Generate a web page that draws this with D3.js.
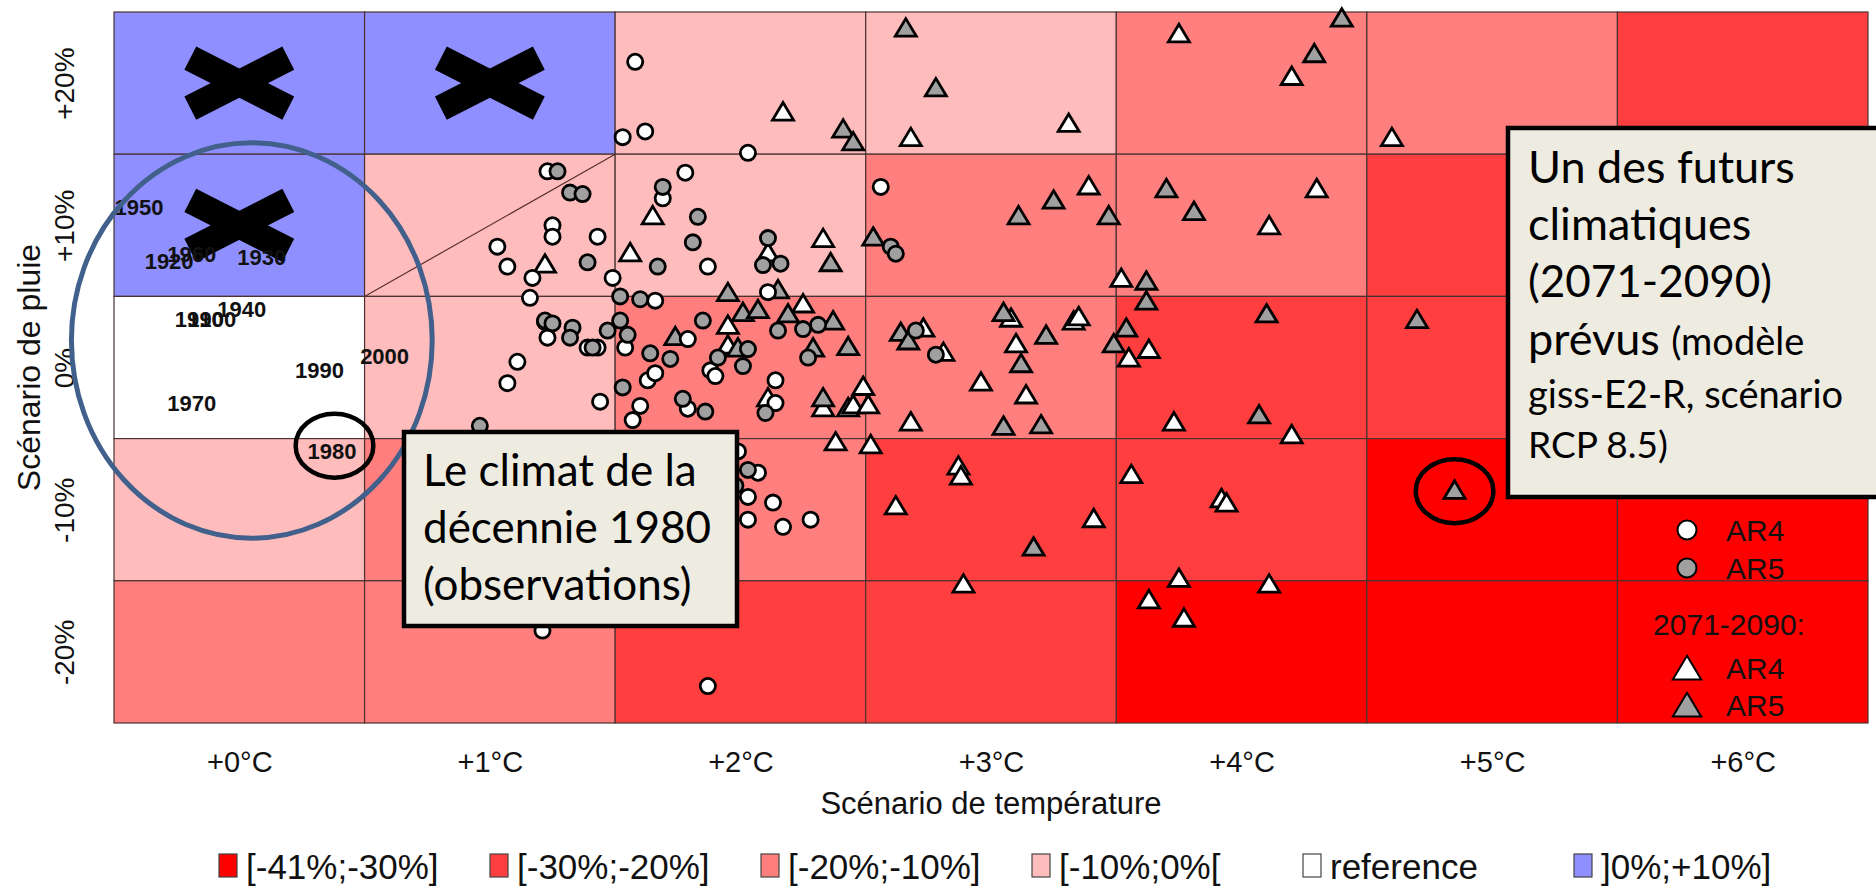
<!DOCTYPE html>
<html>
<head>
<meta charset="utf-8">
<script src="https://cdn.jsdelivr.net/npm/d3@7"></script>
<style>
  body { margin: 0; background: #fff; }
  svg { display: block; }
</style>
</head>
<body>
<script>
// grid of scenarios: temperature change (°C) x rain change (%)
var temps = [0, 1, 2, 3, 4, 5, 6];
var rains = [20, 10, 0, -10, -20];

// yield change class of each cell, rows from +20% down to -20%
var cellClass = [
  ["up",  "up",  "m10", "m10", "m20", "m20", "m30"],
  ["up",  "m10", "m10", "m20", "m20", "m30", "m30"],
  ["ref", "m10", "m20", "m20", "m30", "m30", "m41"],
  ["m10", "m20", "m20", "m30", "m30", "m41", "m41"],
  ["m20", "m20", "m30", "m30", "m41", "m41", "m41"]
];
var classes = ["m41", "m30", "m20", "m10", "ref", "up"];
var classLabels = ["[-41%;-30%]", "[-30%;-20%]", "[-20%;-10%]", "[-10%;0%[", "reference", "]0%;+10%]"];
var classColors = ["#ff0000", "#ff3f3f", "#ff7f7f", "#ffbcbc", "#ffffff", "#8f8fff"];

// cells that are out of reach (crossed out)
var crossed = [[0, 20], [1, 20], [0, 10]];

// observed decades (temperature, rain)
var decades = ["1900", "1910", "1920", "1930", "1940", "1950", "1960", "1970", "1980", "1990", "2000"];
var decT = [-0.11, -0.16, -0.28, 0.09, 0.01, -0.40, -0.19, -0.19, 0.37, 0.32, 0.58];
var decR = [3.4, 3.4, 7.5, 7.8, 4.1, 11.3, 8.0, -2.5, -5.9, -0.2, 0.8];

// mid-century projections, circles [temperature, rain]
var midAR4 = [
  [1.58, 21.5], [1.53, 16.2], [1.62, 16.6], [2.03, 15.1], [1.78, 13.7], [1.23, 13.8], [1.69, 11.9],
  [2.56, 12.7], [1.25, 10.0], [1.25, 9.2], [1.43, 9.2], [1.03, 8.5], [1.07, 7.1], [1.87, 7.1],
  [1.17, 6.3], [1.49, 6.3], [1.16, 4.9], [1.66, 4.7], [2.11, 5.3], [1.22, 3.2], [1.23, 2.1],
  [1.39, 1.4], [1.43, 1.4], [1.54, 1.4], [1.79, 2.0], [1.88, -0.2], [1.90, -0.6], [1.11, 0.4],
  [1.07, -1.1], [1.63, -0.9], [1.66, -0.4], [2.14, -0.9], [1.44, -2.4], [1.60, -2.7], [1.57, -3.7],
  [1.79, -2.9], [2.14, -2.5], [1.99, -5.9], [2.07, -7.4], [2.03, -9.1], [2.13, -9.5], [2.03, -10.7],
  [2.17, -11.2], [2.28, -10.7], [1.21, -18.5], [1.87, -22.4]
];
var midAR5 = [
  [1.27, 13.8], [1.32, 12.3], [1.37, 12.2], [1.69, 12.7], [1.83, 10.6], [1.39, 7.4], [1.81, 8.8],
  [1.67, 7.1], [2.11, 9.1], [2.09, 7.2], [2.16, 7.3], [2.60, 8.5], [2.62, 8.0], [1.52, 5.0],
  [1.60, 4.8], [2.31, 3.0], [2.25, 2.7], [2.15, 2.6], [1.85, 3.3], [1.22, 3.3], [1.25, 3.1],
  [1.33, 2.8], [1.32, 2.1], [1.41, 1.4], [1.47, 2.6], [1.52, 3.3], [1.55, 2.3], [1.64, 1.0],
  [1.72, 0.6], [2.03, 1.3], [1.91, 0.7], [2.01, 0.1], [2.27, 0.7], [2.70, 2.6], [2.78, 0.9],
  [1.53, -1.4], [1.77, -2.2], [1.86, -3.1], [2.10, -3.2], [0.96, -4.1], [2.03, -7.2], [1.98, -8.3]
];

// 2071-2090 projections, triangles [temperature, rain]
var endAR4 = [
  [2.17, 18.0], [2.68, 16.2], [1.65, 10.7], [1.22, 7.3], [1.56, 8.1], [2.11, 8.1], [2.33, 9.1],
  [2.25, 4.5], [1.95, 3.0], [1.95, 1.6], [2.73, 2.8], [2.81, 1.1], [2.49, -1.3], [2.11, -2.1],
  [2.33, -2.8], [2.43, -2.8], [2.45, -2.6], [2.51, -2.6], [2.68, -3.8], [2.38, -5.2], [2.52, -5.4],
  [3.31, 17.2], [4.60, 16.2], [3.39, 12.8], [4.30, 12.6], [4.11, 10.0], [3.52, 6.3], [3.08, 3.5],
  [3.33, 3.3], [3.35, 3.6], [3.10, 1.7], [3.55, 0.7], [3.63, 1.3], [2.96, -1.0], [3.14, -1.9],
  [3.73, -3.8], [4.20, -4.7], [2.87, -6.9], [2.88, -7.6], [3.56, -7.5], [3.92, -9.2], [3.94, -9.5],
  [3.41, -10.6], [2.89, -15.2], [3.75, -14.8], [4.11, -15.2], [3.63, -16.3], [3.77, -17.6],
  [3.75, 23.5], [4.20, 20.5], [2.62, -9.7]
];
var endAR5 = [
  [2.41, 16.8], [2.45, 15.9], [2.36, 7.4], [2.53, 9.2], [1.95, 5.3], [2.15, 5.5], [2.01, 3.9],
  [2.07, 4.1], [2.19, 3.8], [2.37, 3.3], [1.74, 2.2], [1.99, 1.4], [2.29, 1.4], [2.43, 1.5],
  [2.64, 2.5], [2.67, 1.9], [2.33, -2.1], [3.25, 11.8], [3.11, 10.7], [3.47, 10.7], [3.70, 12.6],
  [3.81, 11.0], [3.62, 6.1], [3.62, 4.7], [4.10, 3.8], [4.70, 3.4], [3.05, 3.9], [3.22, 2.3],
  [3.12, 0.3], [3.54, 2.8], [3.49, 1.7], [3.05, -4.1], [3.20, -4.0], [4.07, -3.3], [3.17, -12.6],
  [4.85, -8.6], [2.66, 23.9], [2.78, 19.7], [4.40, 24.6], [4.29, 22.1]
];

var W = 1876, H = 886;
var svg = d3.select("body").append("svg").attr("width", W).attr("height", H);

var x = d3.scaleLinear().domain([-0.5, 6.5]).range([114, 1868]);
var y = d3.scaleLinear().domain([-25, 25]).range([723, 12]);
var cw = x(1) - x(0), ch = y(0) - y(10);
var colorOf = d3.scaleOrdinal().domain(classes).range(classColors);

var rFont = "'Liberation Sans', Arial, sans-serif";

// cells
var cells = [];
rains.forEach(function (r, i) {
  temps.forEach(function (t, j) { cells.push({ t: t, r: r, cls: cellClass[i][j] }); });
});
svg.append("g").selectAll("rect").data(cells).enter().append("rect")
  .attr("x", function (d) { return x(d.t - 0.5); })
  .attr("y", function (d) { return y(d.r + 5); })
  .attr("width", cw)
  .attr("height", ch)
  .attr("fill", function (d) { return colorOf(d.cls); })
  .attr("stroke", "#4a3232")
  .attr("stroke-width", 1.2);

// diagonal in the +1°C / +10% cell
svg.append("line")
  .attr("x1", x(0.5)).attr("y1", y(5))
  .attr("x2", x(1.5)).attr("y2", y(15))
  .attr("stroke", "#5a3030").attr("stroke-width", 1.2);

// crosses
var crossG = svg.append("g").selectAll("g").data(crossed).enter().append("g")
  .attr("transform", function (d) { return "translate(" + x(d[0]) + "," + y(d[1]) + ")"; });
crossG.append("line").attr("x1", -49).attr("y1", -25).attr("x2", 49).attr("y2", 25);
crossG.append("line").attr("x1", -49).attr("y1", 25).attr("x2", 49).attr("y2", -25);
crossG.selectAll("line").attr("stroke", "#000").attr("stroke-width", 26);

// decade labels
svg.append("g").selectAll("text").data(decades).enter().append("text")
  .attr("x", function (d, i) { return x(decT[i]); })
  .attr("y", function (d, i) { return y(decR[i]); })
  .attr("dy", "0.36em")
  .attr("text-anchor", "middle")
  .style("font-family", rFont).style("font-weight", "bold").style("font-size", "22px")
  .style("fill", "#111")
  .text(function (d) { return d; });

// markers
var tri = "M0,-9L10.5,8.5L-10.5,8.5Z";
function triangles(data, fill) {
  svg.append("g").selectAll("path").data(data).enter().append("path")
    .attr("d", tri)
    .attr("transform", function (d) { return "translate(" + x(d[0]) + "," + y(d[1]) + ")"; })
    .attr("fill", fill).attr("stroke", "#000").attr("stroke-width", 2.8)
    .attr("stroke-linejoin", "miter");
}
function circles(data, fill) {
  svg.append("g").selectAll("circle").data(data).enter().append("circle")
    .attr("cx", function (d) { return x(d[0]); })
    .attr("cy", function (d) { return y(d[1]); })
    .attr("r", 7.6)
    .attr("fill", fill).attr("stroke", "#000").attr("stroke-width", 2.8);
}
triangles(endAR4, "#ffffff");
triangles(endAR5, "#a0a0a0");
circles(midAR4, "#ffffff");
circles(midAR5, "#a0a0a0");

// axes
var xAxis = svg.append("g")
  .attr("transform", "translate(0," + y(-25) + ")")
  .call(d3.axisBottom(x).tickValues(temps).tickSize(0).tickPadding(28)
    .tickFormat(function (d) { return "+" + d + "°C"; }));
xAxis.select(".domain").remove();
xAxis.selectAll("text").style("font-family", rFont).style("font-size", "29px").style("fill", "#111");

var yAxis = svg.append("g")
  .attr("transform", "translate(" + x(-0.5) + ",0)")
  .call(d3.axisLeft(y).tickValues(rains).tickSize(0)
    .tickFormat(function (d) { return (d > 0 ? "+" : "") + d + "%"; }));
yAxis.select(".domain").remove();
yAxis.selectAll("text")
  .attr("transform", "rotate(-90)")
  .attr("text-anchor", "middle")
  .attr("x", 0).attr("y", -50).attr("dy", "0.35em")
  .style("font-family", rFont).style("font-size", "28px").style("fill", "#111");

svg.append("text")
  .attr("x", (x(-0.5) + x(6.5)) / 2).attr("y", 814)
  .attr("text-anchor", "middle")
  .style("font-family", rFont).style("font-size", "31px").style("fill", "#111")
  .text("Scénario de température");
svg.append("text")
  .attr("transform", "translate(40," + y(0) + ") rotate(-90)")
  .attr("text-anchor", "middle")
  .style("font-family", rFont).style("font-size", "32px").style("fill", "#111")
  .text("Scénario de pluie");

// legend below
var leg = svg.append("g").selectAll("g").data(classes).enter().append("g")
  .attr("transform", function (d, i) { return "translate(" + (219 + i * 271) + ",866)"; });
leg.append("rect").attr("x", 0).attr("y", -12).attr("width", 18).attr("height", 23)
  .attr("fill", function (d) { return colorOf(d); }).attr("stroke", "#444").attr("stroke-width", 1.2);
leg.append("text").attr("x", 27).attr("y", 0).attr("dy", "0.36em")
  .style("font-family", rFont).style("font-size", "35px").style("fill", "#111")
  .text(function (d, i) { return classLabels[i]; });

// legend inside the plot
var inLeg = svg.append("g").style("font-family", rFont).style("font-size", "30px").style("fill", "#111");
inLeg.append("circle").attr("cx", 1687).attr("cy", 530).attr("r", 9.5).attr("fill", "#fff").attr("stroke", "#000").attr("stroke-width", 2);
inLeg.append("circle").attr("cx", 1687).attr("cy", 568).attr("r", 9.5).attr("fill", "#a0a0a0").attr("stroke", "#000").attr("stroke-width", 2);
inLeg.append("text").attr("x", 1726).attr("y", 530).attr("dy", "0.36em").text("AR4");
inLeg.append("text").attr("x", 1726).attr("y", 568).attr("dy", "0.36em").text("AR5");
inLeg.append("text").attr("x", 1729).attr("y", 624).attr("dy", "0.36em").attr("text-anchor", "middle").text("2071-2090:");
inLeg.append("path").attr("d", tri).attr("transform", "translate(1687,668) scale(1.35)")
  .attr("fill", "#fff").attr("stroke", "#000").attr("stroke-width", 1.5);
inLeg.append("path").attr("d", tri).attr("transform", "translate(1687,705) scale(1.35)")
  .attr("fill", "#a0a0a0").attr("stroke", "#000").attr("stroke-width", 1.5);
inLeg.append("text").attr("x", 1726).attr("y", 668).attr("dy", "0.36em").text("AR4");
inLeg.append("text").attr("x", 1726).attr("y", 705).attr("dy", "0.36em").text("AR5");

// annotations: ellipses
svg.append("ellipse")
  .attr("cx", x(0.05)).attr("cy", y(1.9))
  .attr("rx", x(0.72) - x(0)).attr("ry", y(0) - y(13.9))
  .attr("fill", "none").attr("stroke", "#41618c").attr("stroke-width", 5);
[[0.38, -5.5], [4.85, -8.7]].forEach(function (p) {
  svg.append("ellipse")
    .attr("cx", x(p[0])).attr("cy", y(p[1]))
    .attr("rx", x(0.155) - x(0)).attr("ry", y(0) - y(2.25))
    .attr("fill", "none").attr("stroke", "#000").attr("stroke-width", 4.5);
});

// annotation boxes
var boxFont = "Lato, 'Open Sans', sans-serif";
function box(x0, y0, w, h) {
  svg.append("rect").attr("x", x0).attr("y", y0).attr("width", w).attr("height", h)
    .attr("fill", "#eeebe0").attr("stroke", "#000").attr("stroke-width", 4.5);
}
box(404, 432, 333, 194);
var t1 = svg.append("text").style("font-family", boxFont).style("font-size", "44px").style("fill", "#000");
["Le climat de la", "décennie 1980", "(observations)"].forEach(function (s, i) {
  t1.append("tspan").attr("x", 423).attr("y", 486 + i * 57).text(s);
});

box(1508, 128, 380, 369);
var t2 = svg.append("text").style("font-family", boxFont).style("fill", "#000");
var lines2 = [
  [["Un des futurs", 45]],
  [["climatiques", 45]],
  [["(2071-2090)", 44]],
  [["prévus ", 45], ["(modèle", 38]],
  [["giss-E2-R, scénario", 38]],
  [["RCP 8.5)", 37]]
];
var base2 = [183, 240, 297, 355, 408, 458];
lines2.forEach(function (ln, i) {
  ln.forEach(function (seg, k) {
    var ts = t2.append("tspan").style("font-size", seg[1] + "px").text(seg[0]);
    if (k === 0) ts.attr("x", 1528).attr("y", base2[i]);
  });
});
</script>
</body>
</html>
